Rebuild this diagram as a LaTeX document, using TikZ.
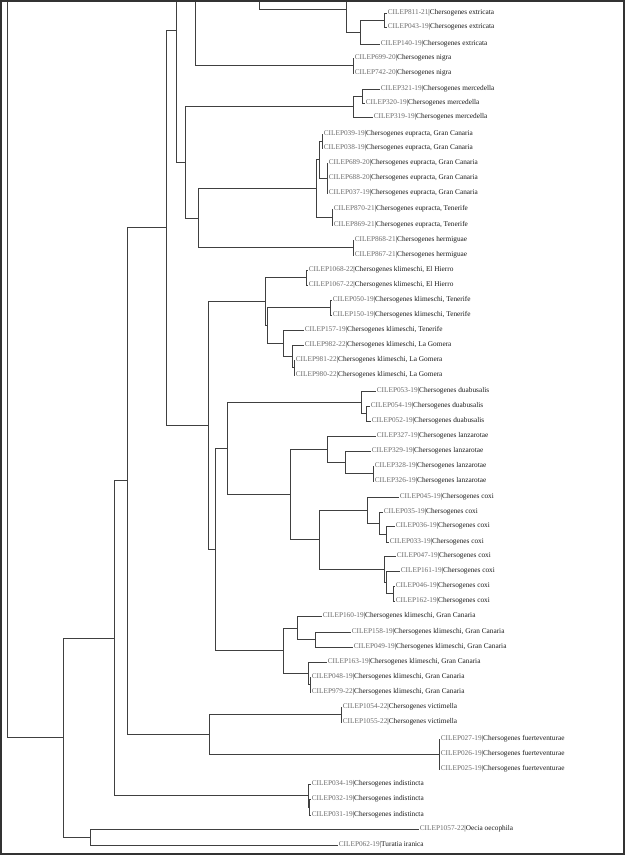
\documentclass[tikz,border=0pt]{standalone}
\usepackage{fontspec}
\setmainfont{Liberation Serif}
\usepackage{xcolor}

\definecolor{idgray}{gray}{0.42}
\definecolor{linegray}{gray}{0.25}
\newcommand{\lab}[2]{{\color{idgray}#1}|#2}

\tikzset{
  tip/.style={anchor=west, inner xsep=0.6pt, inner ysep=0pt, text height=5pt, text depth=1.4pt,
    font=\fontsize{7.3}{8}\selectfont, text=black!90},
  branch/.style={line width=0.8pt, draw=linegray, line join=miter}
}

\begin{document}
\begin{tikzpicture}[x=1pt, y=-1pt]
\useasboundingbox (0,0) rectangle (625,855);

% tips, top to bottom
\node[tip] (t811) at (387,13) {\lab{CILEP811-21}{Chersogenes extricata}};
\node[tip] (t043) at (387,27) {\lab{CILEP043-19}{Chersogenes extricata}};
\node[tip] (t140) at (380,44) {\lab{CILEP140-19}{Chersogenes extricata}};
\node[tip] (t699) at (354,58) {\lab{CILEP699-20}{Chersogenes nigra}};
\node[tip] (t742) at (354,73) {\lab{CILEP742-20}{Chersogenes nigra}};
\node[tip] (t321) at (380,89) {\lab{CILEP321-19}{Chersogenes mercedella}};
\node[tip] (t320) at (365,103) {\lab{CILEP320-19}{Chersogenes mercedella}};
\node[tip] (t319) at (373,117) {\lab{CILEP319-19}{Chersogenes mercedella}};
\node[tip] (t039) at (323,134) {\lab{CILEP039-19}{Chersogenes eupracta, Gran Canaria}};
\node[tip] (t038) at (323,148) {\lab{CILEP038-19}{Chersogenes eupracta, Gran Canaria}};
\node[tip] (t689) at (328,163) {\lab{CILEP689-20}{Chersogenes eupracta, Gran Canaria}};
\node[tip] (t688) at (328,178) {\lab{CILEP688-20}{Chersogenes eupracta, Gran Canaria}};
\node[tip] (t037) at (328,193) {\lab{CILEP037-19}{Chersogenes eupracta, Gran Canaria}};
\node[tip] (t870) at (333,209) {\lab{CILEP870-21}{Chersogenes eupracta, Tenerife}};
\node[tip] (t869) at (333,225) {\lab{CILEP869-21}{Chersogenes eupracta, Tenerife}};
\node[tip] (t868) at (354,240) {\lab{CILEP868-21}{Chersogenes hermiguae}};
\node[tip] (t867) at (354,255) {\lab{CILEP867-21}{Chersogenes hermiguae}};
\node[tip] (t1068) at (308,270) {\lab{CILEP1068-22}{Chersogenes klimeschi, El Hierro}};
\node[tip] (t1067) at (308,285) {\lab{CILEP1067-22}{Chersogenes klimeschi, El Hierro}};
\node[tip] (t050) at (332,300) {\lab{CILEP050-19}{Chersogenes klimeschi, Tenerife}};
\node[tip] (t150) at (332,315) {\lab{CILEP150-19}{Chersogenes klimeschi, Tenerife}};
\node[tip] (t157) at (304,330) {\lab{CILEP157-19}{Chersogenes klimeschi, Tenerife}};
\node[tip] (t982) at (304,345) {\lab{CILEP982-22}{Chersogenes klimeschi, La Gomera}};
\node[tip] (t981) at (295,360) {\lab{CILEP981-22}{Chersogenes klimeschi, La Gomera}};
\node[tip] (t980) at (295,375) {\lab{CILEP980-22}{Chersogenes klimeschi, La Gomera}};
\node[tip] (t053) at (376,391) {\lab{CILEP053-19}{Chersogenes duabusalis}};
\node[tip] (t054) at (370,406) {\lab{CILEP054-19}{Chersogenes duabusalis}};
\node[tip] (t052) at (371,421) {\lab{CILEP052-19}{Chersogenes duabusalis}};
\node[tip] (t327) at (376,436) {\lab{CILEP327-19}{Chersogenes lanzarotae}};
\node[tip] (t329) at (371,451) {\lab{CILEP329-19}{Chersogenes lanzarotae}};
\node[tip] (t328) at (374,466) {\lab{CILEP328-19}{Chersogenes lanzarotae}};
\node[tip] (t326) at (374,481) {\lab{CILEP326-19}{Chersogenes lanzarotae}};
\node[tip] (t045) at (399,497) {\lab{CILEP045-19}{Chersogenes coxi}};
\node[tip] (t035) at (383,512) {\lab{CILEP035-19}{Chersogenes coxi}};
\node[tip] (t036) at (395,526) {\lab{CILEP036-19}{Chersogenes coxi}};
\node[tip] (t033) at (389,542) {\lab{CILEP033-19}{Chersogenes coxi}};
\node[tip] (t047) at (396,556) {\lab{CILEP047-19}{Chersogenes coxi}};
\node[tip] (t161) at (400,571) {\lab{CILEP161-19}{Chersogenes coxi}};
\node[tip] (t046) at (395,586) {\lab{CILEP046-19}{Chersogenes coxi}};
\node[tip] (t162) at (395,601) {\lab{CILEP162-19}{Chersogenes coxi}};
\node[tip] (t160) at (322,616) {\lab{CILEP160-19}{Chersogenes klimeschi, Gran Canaria}};
\node[tip] (t158) at (351,632) {\lab{CILEP158-19}{Chersogenes klimeschi, Gran Canaria}};
\node[tip] (t049) at (353,647) {\lab{CILEP049-19}{Chersogenes klimeschi, Gran Canaria}};
\node[tip] (t163) at (327,662) {\lab{CILEP163-19}{Chersogenes klimeschi, Gran Canaria}};
\node[tip] (t048) at (311,677) {\lab{CILEP048-19}{Chersogenes klimeschi, Gran Canaria}};
\node[tip] (t979) at (311,692) {\lab{CILEP979-22}{Chersogenes klimeschi, Gran Canaria}};
\node[tip] (t1054) at (342,707) {\lab{CILEP1054-22}{Chersogenes victimella}};
\node[tip] (t1055) at (342,722) {\lab{CILEP1055-22}{Chersogenes victimella}};
\node[tip] (t027) at (440,739) {\lab{CILEP027-19}{Chersogenes fuerteventurae}};
\node[tip] (t026) at (440,754) {\lab{CILEP026-19}{Chersogenes fuerteventurae}};
\node[tip] (t025) at (440,769) {\lab{CILEP025-19}{Chersogenes fuerteventurae}};
\node[tip] (t034) at (311,784) {\lab{CILEP034-19}{Chersogenes indistincta}};
\node[tip] (t032) at (311,799) {\lab{CILEP032-19}{Chersogenes indistincta}};
\node[tip] (t031) at (311,815) {\lab{CILEP031-19}{Chersogenes indistincta}};
\node[tip] (t1057) at (419,829) {\lab{CILEP1057-22}{Oecia oecophila}};
\node[tip] (t062) at (338,845) {\lab{CILEP062-19}{Turatia iranica}};

% branches cut by the top edge
\coordinate (cutR) at (7,0);
\coordinate (cutA) at (176,0);
\coordinate (cutN) at (195,0);
\coordinate (cutX) at (259,0);
\coordinate (cutE) at (346,0);

% internal nodes
\coordinate (e1) at (384,20);
\coordinate (e2) at (360,32);
\coordinate (e3) at (346,9);
\coordinate (ng) at (353,65.5);
\coordinate (m1) at (362,96);
\coordinate (m) at (353,106.5);
\coordinate (eu1) at (322,141);
\coordinate (eu2) at (327,178);
\coordinate (eu3) at (319,159.5);
\coordinate (eut) at (332,217);
\coordinate (eu) at (316,188);
\coordinate (hm) at (353,247.5);
\coordinate (c) at (198,218);
\coordinate (b) at (185,162);
\coordinate (a) at (176,30);
\coordinate (kh) at (306,277.5);
\coordinate (kt) at (330,307.5);
\coordinate (k5) at (294,367.5);
\coordinate (k4) at (292,356);
\coordinate (k3) at (283,343);
\coordinate (k2) at (267,325);
\coordinate (k) at (265,301);
\coordinate (d2) at (366,413.5);
\coordinate (d) at (361,402);
\coordinate (lz3) at (373,473.5);
\coordinate (lz2) at (345,462);
\coordinate (lz) at (327,449);
\coordinate (cx1c) at (386,534);
\coordinate (cx1b) at (379,523);
\coordinate (cx1) at (367,510);
\coordinate (cx2b) at (393,593.5);
\coordinate (cx2a) at (386,582);
\coordinate (cx2) at (384,569);
\coordinate (cx) at (319,539);
\coordinate (l) at (290,494);
\coordinate (n227) at (227,448);
\coordinate (gc1b) at (315,639.5);
\coordinate (gc1) at (297,628);
\coordinate (gc2b) at (310,684.5);
\coordinate (gc2) at (308,673);
\coordinate (gc) at (283,650.5);
\coordinate (n215) at (215,549.5);
\coordinate (n208) at (208,425);
\coordinate (n166) at (166,227.5);
\coordinate (v) at (341,714.5);
\coordinate (f) at (439,754);
\coordinate (vf) at (209,734);
\coordinate (n127) at (127,480.5);
\coordinate (i2) at (309,807);
\coordinate (i) at (308,795.5);
\coordinate (n114) at (114,638);
\coordinate (o) at (90,837);
\coordinate (n63) at (63,737.5);

% extricata, nigra
\draw[branch] (e1) |- (t811.west) (e1) |- (t043.west);
\draw[branch] (e2) |- (e1) (e2) |- (t140.west);
\draw[branch] (e3) -- (cutE) (e3) |- (e2);
\draw[branch] (cutX) |- (e3);
\draw[branch] (ng) |- (t699.west) (ng) |- (t742.west);
\draw[branch] (cutN) |- (ng);

% mercedella, eupracta, hermiguae
\draw[branch] (m1) |- (t321.west) (m1) |- (t320.west);
\draw[branch] (m) |- (m1) (m) |- (t319.west);
\draw[branch] (eu1) |- (t039.west) (eu1) |- (t038.west);
\draw[branch] (eu2) |- (t689.west) (eu2) |- (t688.west) (eu2) |- (t037.west);
\draw[branch] (eu3) |- (eu1) (eu3) |- (eu2);
\draw[branch] (eut) |- (t870.west) (eut) |- (t869.west);
\draw[branch] (eu) |- (eu3) (eu) |- (eut);
\draw[branch] (hm) |- (t868.west) (hm) |- (t867.west);
\draw[branch] (c) |- (eu) (c) |- (hm);
\draw[branch] (b) |- (m) (b) |- (c);
\draw[branch] (a) -- (cutA) (a) |- (b);

% klimeschi (western islands)
\draw[branch] (kh) |- (t1068.west) (kh) |- (t1067.west);
\draw[branch] (kt) |- (t050.west) (kt) |- (t150.west);
\draw[branch] (k5) |- (t981.west) (k5) |- (t980.west);
\draw[branch] (k4) |- (t982.west) (k4) |- (k5);
\draw[branch] (k3) |- (t157.west) (k3) |- (k4);
\draw[branch] (k2) |- (kt) (k2) |- (k3);
\draw[branch] (k) |- (kh) (k) |- (k2);

% duabusalis, lanzarotae, coxi
\draw[branch] (d2) |- (t054.west) (d2) |- (t052.west);
\draw[branch] (d) |- (t053.west) (d) |- (d2);
\draw[branch] (lz3) |- (t328.west) (lz3) |- (t326.west);
\draw[branch] (lz2) |- (t329.west) (lz2) |- (lz3);
\draw[branch] (lz) |- (t327.west) (lz) |- (lz2);
\draw[branch] (cx1c) |- (t036.west) (cx1c) |- (t033.west);
\draw[branch] (cx1b) |- (t035.west) (cx1b) |- (cx1c);
\draw[branch] (cx1) |- (t045.west) (cx1) |- (cx1b);
\draw[branch] (cx2b) |- (t046.west) (cx2b) |- (t162.west);
\draw[branch] (cx2a) |- (t161.west) (cx2a) |- (cx2b);
\draw[branch] (cx2) |- (t047.west) (cx2) |- (cx2a);
\draw[branch] (cx) |- (cx1) (cx) |- (cx2);
\draw[branch] (l) |- (lz) (l) |- (cx);
\draw[branch] (n227) |- (d) (n227) |- (l);

% klimeschi (Gran Canaria)
\draw[branch] (gc1b) |- (t158.west) (gc1b) |- (t049.west);
\draw[branch] (gc1) |- (t160.west) (gc1) |- (gc1b);
\draw[branch] (gc2b) |- (t048.west) (gc2b) |- (t979.west);
\draw[branch] (gc2) |- (t163.west) (gc2) |- (gc2b);
\draw[branch] (gc) |- (gc1) (gc) |- (gc2);
\draw[branch] (n215) |- (n227) (n215) |- (gc);
\draw[branch] (n208) |- (k) (n208) |- (n215);
\draw[branch] (n166) |- (a) (n166) |- (n208);

% victimella, fuerteventurae, indistincta
\draw[branch] (v) |- (t1054.west) (v) |- (t1055.west);
\draw[branch] (f) |- (t027.west) (f) |- (t026.west) (f) |- (t025.west);
\draw[branch] (vf) |- (v) (vf) |- (f);
\draw[branch] (n127) |- (n166) (n127) |- (vf);
\draw[branch] (i2) |- (t032.west) (i2) |- (t031.west);
\draw[branch] (i) |- (t034.west) (i) |- (i2);
\draw[branch] (n114) |- (n127) (n114) |- (i);

% outgroup and root
\draw[branch] (o) |- (t1057.west) (o) |- (t062.west);
\draw[branch] (n63) |- (n114) (n63) |- (o);
\draw[branch] (cutR) |- (n63);

% frame
\draw[line width=1.6pt, black!80] (0.8,0.8) rectangle (624.2,854.2);
\end{tikzpicture}
\end{document}
